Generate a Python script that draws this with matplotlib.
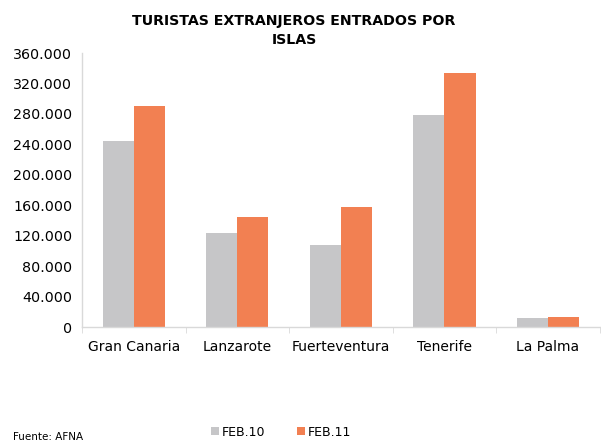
from matplotlib import pyplot as plt
from matplotlib.ticker import FuncFormatter, FixedLocator
import numpy as np

# Data
islas = ['Gran Canaria', 'Lanzarote', 'Fuerteventura', 'Tenerife', 'La Palma']
feb10 = [244400, 123500, 107700, 278600, 11800]
feb11 = [290400, 144500, 157700, 334000, 12700]
series_names = ['FEB.10', 'FEB.11']
yticks = list(range(0, 360001, 40000))

gray = '#C6C6C8'
orange = '#F28052'
axis_col = '#D9D9D9'

plt.rcParams['font.family'] = 'DejaVu Sans'

fig = plt.figure(figsize=(6.01, 4.44), dpi=100, facecolor='w')
ax = fig.add_axes([0.1364, 0.2635, 0.8616, 0.6171])

x = np.arange(len(islas))
w = 0.3
ax.bar(x - w / 2, feb10, w, color=gray, label=series_names[0])
ax.bar(x + w / 2, feb11, w, color=orange, label=series_names[1])

ax.set_xlim(-0.5, len(islas) - 0.5)
ax.set_ylim(0, 360000)
ax.set_yticks(yticks)
ax.yaxis.set_major_formatter(FuncFormatter(lambda v, p: '{:,.0f}'.format(v).replace(',', '.')))
ax.tick_params(axis='y', length=0, labelsize=10.3, pad=7, colors='#000000')

ax.set_xticks(x)
ax.set_xticklabels(islas)
ax.tick_params(axis='x', which='major', length=0, labelsize=10, pad=9)
ax.xaxis.set_minor_locator(FixedLocator(np.arange(-0.5, len(islas), 1.0)))
ax.tick_params(axis='x', which='minor', length=4, color=axis_col, direction='out')

for s in ['top', 'right']:
    ax.spines[s].set_visible(False)
for s in ['left', 'bottom']:
    ax.spines[s].set_color(axis_col)
    ax.spines[s].set_linewidth(1.0)

fig.text(0.489, 0.968, 'TURISTAS EXTRANJEROS ENTRADOS POR\nISLAS', ha='center', va='top',
         fontsize=10.2, fontweight='bold', linespacing=1.4)

leg = fig.legend(loc='center', bbox_to_anchor=(0.4676, 0.027), ncol=2, frameon=False,
                 fontsize=9, handlelength=0.64, handleheight=0.64, handletextpad=0.2,
                 columnspacing=2.6)

fig.text(0.021, 0.004, 'Fuente: AFNA', fontsize=7.5, ha='left', va='bottom')

plt.savefig('out.png', dpi=100)
